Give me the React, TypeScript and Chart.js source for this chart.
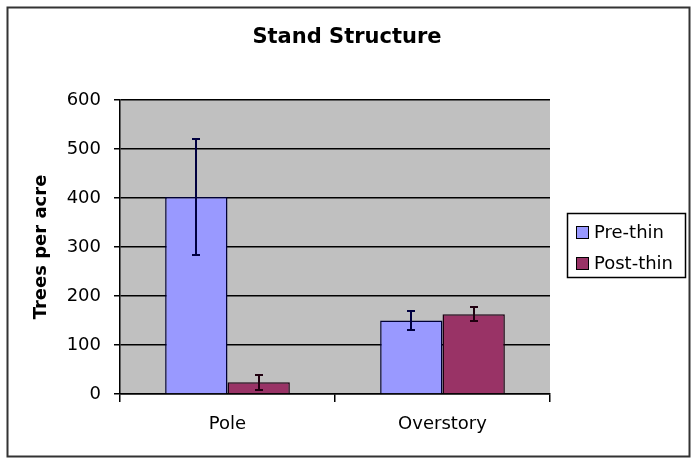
import React, { useEffect, useRef } from "react";
import { Chart, registerables } from "chart.js";

Chart.register(...registerables);

const categories = ["Pole", "Overstory"];
const seriesNames = ["Pre-thin", "Post-thin"];
const preThin = [402, 150];
const postThin = [24, 163];
const preThinErr = [118, 20];
const postThinErr = [15, 15];
const yTicks = [0, 100, 200, 300, 400, 500, 600];
const titleText = "Stand Structure";
const yAxisTitle = "Trees per acre";

const FONT = "'DejaVu Sans', Arial, sans-serif";

const decorPlugin = {
  id: "decor",
  beforeDraw(chart: any) {
    const { ctx, chartArea } = chart;
    ctx.save();
    ctx.fillStyle = "#ffffff";
    ctx.fillRect(0, 0, chart.width, chart.height);
    ctx.fillStyle = "#c0c0c0";
    ctx.fillRect(chartArea.left, chartArea.top, chartArea.right - chartArea.left, chartArea.bottom - chartArea.top);
    ctx.strokeStyle = "#333333";
    ctx.lineWidth = 2;
    ctx.strokeRect(7.5, 7.5, 682, 449);
    ctx.restore();
  },
  afterDatasetsDraw(chart: any) {
    const { ctx } = chart;
    const yScale = chart.scales.y;
    const errs = [preThinErr, postThinErr];
    const colors = ["#000040", "#200010"];
    ctx.save();
    chart.data.datasets.forEach((ds: any, di: number) => {
      const meta = chart.getDatasetMeta(di);
      meta.data.forEach((bar: any, i: number) => {
        const v = ds.data[i];
        const e = errs[di][i];
        const x = Math.round(bar.x);
        const yTop = Math.round(yScale.getPixelForValue(v + e));
        const yBot = Math.round(yScale.getPixelForValue(v - e));
        ctx.strokeStyle = colors[di];
        ctx.lineWidth = 2;
        ctx.beginPath();
        ctx.moveTo(x, yTop);
        ctx.lineTo(x, yBot);
        ctx.moveTo(x - 4, yTop);
        ctx.lineTo(x + 4, yTop);
        ctx.moveTo(x - 4, yBot);
        ctx.lineTo(x + 4, yBot);
        ctx.stroke();
      });
    });
    ctx.restore();
  },
  afterDraw(chart: any) {
    const { ctx } = chart;
    ctx.save();
    // title
    ctx.fillStyle = "#000000";
    ctx.font = `bold 21px ${FONT}`;
    ctx.textAlign = "center";
    ctx.textBaseline = "alphabetic";
    ctx.fillText(titleText, 347, 43);
    // legend
    ctx.strokeStyle = "#000000";
    ctx.lineWidth = 1.5;
    ctx.strokeRect(567.5, 213.5, 118, 64);
    const itemY = [232, 263];
    ctx.font = `18px ${FONT}`;
    ctx.textAlign = "left";
    ctx.textBaseline = "middle";
    chart.data.datasets.forEach((ds: any, i: number) => {
      const y = itemY[i];
      ctx.fillStyle = ds.backgroundColor;
      ctx.fillRect(576, y - 6, 12, 12);
      ctx.strokeStyle = "#000000";
      ctx.lineWidth = 1;
      ctx.strokeRect(576.5, y - 5.5, 12, 12);
      ctx.fillStyle = "#000000";
      ctx.fillText(ds.label, 594, y + 1);
    });
    ctx.restore();
  },
};

export default function App() {
  const ref = useRef<HTMLCanvasElement>(null);
  useEffect(() => {
    if (!ref.current) return;
    const chart = new Chart(ref.current, {
      type: "bar",
      data: {
        labels: categories,
        datasets: [
          {
            label: seriesNames[0],
            data: preThin,
            backgroundColor: "#9999ff",
            borderColor: "#000033",
            borderWidth: 1.5,
            categoryPercentage: 0.58,
            barPercentage: 1,
          },
          {
            label: seriesNames[1],
            data: postThin,
            backgroundColor: "#993366",
            borderColor: "#1a0010",
            borderWidth: 1.5,
            categoryPercentage: 0.58,
            barPercentage: 1,
          },
        ],
      },
      options: {
        responsive: false,
        animation: false,
        devicePixelRatio: 1,
        layout: { padding: { left: 0, right: 143, top: 100, bottom: 0 } },
        plugins: {
          legend: { display: false },
          title: { display: false },
          tooltip: { enabled: false },
        },
        scales: {
          x: {
            grid: {
              display: true,
              drawOnChartArea: false,
              drawTicks: true,
              tickLength: 8,
              color: "#000000",
              lineWidth: 1.5,
              offset: true,
            },
            border: { display: true, color: "#000000", width: 1.5 },
            ticks: {
              color: "#000000",
              font: { family: FONT, size: 18 },
              padding: 12,
            },
            afterFit(scale: any) {
              scale.height = 67;
            },
          },
          y: {
            min: 0,
            max: 600,
            afterBuildTicks(scale: any) {
              scale.ticks = yTicks.map((v) => ({ value: v }));
            },
            grid: {
              color: "#000000",
              lineWidth: 1.5,
              drawTicks: true,
              tickLength: 6,
            },
            border: { display: true, color: "#000000", width: 1.5 },
            ticks: {
              color: "#000000",
              font: { family: FONT, size: 18 },
              padding: 13,
            },
            title: {
              display: true,
              text: yAxisTitle,
              color: "#000000",
              font: { family: FONT, size: 18, weight: "bold" },
              padding: { top: 31, bottom: 0 },
            },
            afterFit(scale: any) {
              scale.width = 120;
            },
          },
        },
      },
      plugins: [decorPlugin],
    } as any);
    return () => chart.destroy();
  }, []);
  return (
    <div style={{ position: "absolute", left: 0, top: 0, width: 693, height: 461 }}>
      <canvas ref={ref} width={693} height={461} style={{ display: "block" }} />
    </div>
  );
}
